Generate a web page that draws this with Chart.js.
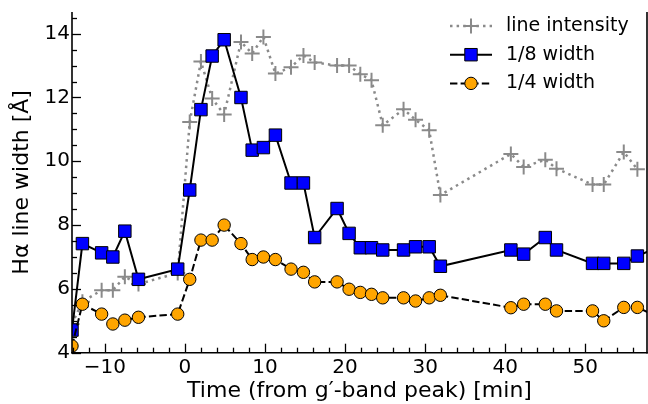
<!DOCTYPE html>
<html>
<head>
<meta charset="utf-8">
<script src="https://cdn.jsdelivr.net/npm/chart.js@4/dist/chart.umd.min.js"></script>
<style>
  html, body { margin: 0; padding: 0; background: #fff; }
  #wrap { width: 648px; height: 404px; }
</style>
</head>
<body>
<div id="wrap"><canvas id="c" width="648" height="404"></canvas></div>
<script>
// Observation times relative to the g'-band peak [min]
const times = [-14.1, -12.8, -10.4, -9.0, -7.5, -5.8, -0.9, 0.6, 2.0, 3.4, 4.9, 7.0, 8.4, 9.8, 11.3,
               13.25, 14.8, 16.2, 19.0, 20.5, 21.9, 23.3, 24.7, 27.3, 28.8, 30.5, 31.9, 40.7, 42.3,
               45.0, 46.4, 50.9, 52.3, 54.8, 56.5, 59.5];

// Scaled H-alpha line intensity (plotted on the same axis)
const lineIntensity = [4.9, 5.6, 5.96, 5.96, 6.38, 6.15, 6.5, 11.23, 13.13, 11.97, 11.47, 13.74, 13.38,
                       13.9, 12.75, 12.95, 13.32, 13.1, 13.0, 13.0, 12.73, 12.54, 11.13, 11.63, 11.3,
                       10.97, 8.94, 10.23, 9.82, 10.05, 9.77, 9.27, 9.27, 10.29, 9.75, null];

// Line width at 1/8 of the maximum [Å]
const width18 = [4.71, 7.42, 7.13, 7.0, 7.81, 6.3, 6.62, 9.1, 11.62, 13.3, 13.81, 12.0, 10.35, 10.43,
                 10.82, 9.32, 9.32, 7.61, 8.52, 7.74, 7.29, 7.29, 7.22, 7.22, 7.32, 7.32, 6.71, 7.22,
                 7.09, 7.61, 7.22, 6.8, 6.8, 6.8, 7.03, 7.35];

// Line width at 1/4 of the maximum [Å]
const width14 = [4.21, 5.52, 5.21, 4.9, 5.02, 5.11, 5.21, 6.3, 7.53, 7.53, 8.0, 7.42, 6.92, 7.0, 6.92,
                 6.62, 6.52, 6.22, 6.22, 5.99, 5.89, 5.83, 5.72, 5.72, 5.62, 5.72, 5.8, 5.41, 5.52,
                 5.52, 5.31, 5.31, 5.0, 5.42, 5.42, 5.07];

// Major tick values
const xTicks = [-10, 0, 10, 20, 30, 40, 50];
const yTicks = [4, 6, 8, 10, 12, 14];

const FONT = "'DejaVu Sans', 'Liberation Sans', sans-serif";
const GRAY = '#8a8a8a';
Chart.defaults.font.family = FONT;
Chart.defaults.color = '#000';

const pts = arr => times.map((t, i) => ({ x: t, y: arr[i] }));

// Inward ticks (major + minor) and the left/bottom/right spines
const frame = {
  id: 'frame',
  afterDatasetsDraw(chart) {
    const { ctx, chartArea: a, scales: { x, y } } = chart;
    ctx.save();
    ctx.strokeStyle = '#000';
    ctx.lineCap = 'butt';
    const seg = (x0, y0, x1, y1, w) => {
      ctx.lineWidth = w;
      ctx.beginPath(); ctx.moveTo(x0, y0); ctx.lineTo(x1, y1); ctx.stroke();
    };
    for (let v = Math.ceil(x.min / 2) * 2; v <= x.max; v += 2) {
      const px = Math.round(x.getPixelForValue(v)) + 0.5;
      const major = xTicks.includes(v);
      seg(px, a.bottom, px, a.bottom - (major ? 9 : 5), 1.3);
    }
    for (let v = Math.ceil(y.min * 2) / 2; v <= y.max; v += 0.5) {
      const py = Math.round(y.getPixelForValue(v)) + 0.5;
      const major = yTicks.includes(v);
      seg(a.left, py, a.left + (major ? 9 : 5), py, 1.3);
    }
    seg(a.left, a.top, a.left, a.bottom + 0.8, 1.6);
    seg(a.left - 0.8, a.bottom, a.right + 0.8, a.bottom, 1.6);
    seg(a.right, a.top, a.right, a.bottom + 0.8, 1.6);
    ctx.restore();
  }
};

// Legend with line + marker handles, upper right, no frame
const legendBox = {
  id: 'legendBox',
  afterDraw(chart) {
    const { ctx, chartArea: a } = chart;
    const x0 = a.right - 197, x1 = a.right - 155, xm = (x0 + x1) / 2, xt = a.right - 141;
    ctx.save();
    chart.data.datasets.forEach((ds, i) => {
      const yy = 26 + i * 28.7;
      ctx.strokeStyle = ds.borderColor;
      ctx.lineWidth = ds.borderWidth;
      ctx.setLineDash(ds.borderDash || []);
      ctx.beginPath(); ctx.moveTo(x0, yy); ctx.lineTo(x1, yy); ctx.stroke();
      ctx.setLineDash([]);
      const r = ds.pointRadius;
      ctx.lineWidth = ds.pointBorderWidth;
      ctx.strokeStyle = ds.pointBorderColor;
      ctx.fillStyle = ds.pointBackgroundColor;
      ctx.beginPath();
      if (ds.pointStyle === 'cross') {
        ctx.moveTo(xm - r, yy); ctx.lineTo(xm + r, yy);
        ctx.moveTo(xm, yy - r); ctx.lineTo(xm, yy + r);
        ctx.stroke();
      } else if (ds.pointStyle === 'rect') {
        const s = Math.SQRT1_2 * r;
        ctx.rect(xm - s, yy - s, 2 * s, 2 * s);
        ctx.fill(); ctx.stroke();
      } else {
        ctx.arc(xm, yy, r, 0, Math.PI * 2);
        ctx.fill(); ctx.stroke();
      }
      ctx.fillStyle = '#000';
      ctx.font = '19px ' + FONT;
      ctx.textAlign = 'left';
      ctx.textBaseline = 'middle';
      ctx.fillText(ds.label, xt, yy);
    });
    ctx.restore();
  }
};

new Chart(document.getElementById('c'), {
  type: 'line',
  data: {
    datasets: [
      {
        label: 'line intensity', data: pts(lineIntensity),
        borderColor: GRAY, borderWidth: 2.5, borderDash: [2.5, 4.1],
        pointStyle: 'cross', pointRadius: 7.5, pointBorderWidth: 2,
        pointBorderColor: GRAY, pointBackgroundColor: GRAY,
        tension: 0, order: 3, clip: 0
      },
      {
        label: '1/8 width', data: pts(width18),
        borderColor: '#000', borderWidth: 2,
        pointStyle: 'rect', pointRadius: 8.8, pointBorderWidth: 1,
        pointBorderColor: '#000', pointBackgroundColor: '#0000ff',
        tension: 0, order: 2, clip: 0
      },
      {
        label: '1/4 width', data: pts(width14),
        borderColor: '#000', borderWidth: 2, borderDash: [7.4, 3.2],
        pointStyle: 'circle', pointRadius: 6.2, pointBorderWidth: 1,
        pointBorderColor: '#000', pointBackgroundColor: '#ffa500',
        tension: 0, order: 1, clip: 0
      }
    ]
  },
  options: {
    responsive: false,
    animation: false,
    events: [],
    devicePixelRatio: 1,
    layout: { autoPadding: false, padding: { left: 0, right: 1, top: 12, bottom: 0 } },
    plugins: { legend: { display: false }, tooltip: { enabled: false } },
    scales: {
      x: {
        type: 'linear', min: -14.1, max: 57.7,
        grid: { display: false, drawTicks: false },
        border: { display: false },
        afterBuildTicks: s => { s.ticks = xTicks.map(v => ({ value: v })); },
        afterFit: s => { s.height = 51.3; s.paddingLeft = 0; s.paddingRight = 0; },
        ticks: {
          autoSkip: false, maxRotation: 0, padding: 3,
          font: { size: 20 }, color: '#000',
          callback: v => (v < 0 ? '\u2212' + Math.abs(v) : String(v))
        },
        title: {
          display: true, text: 'Time (from g\u2032-band peak) [min]',
          font: { size: 22 }, color: '#000', padding: { top: 0, bottom: 0 }
        }
      },
      y: {
        type: 'linear', min: 4, max: 14.68,
        grid: { display: false, drawTicks: false },
        border: { display: false },
        afterBuildTicks: s => { s.ticks = yTicks.map(v => ({ value: v })); },
        afterFit: s => { s.width = 72; s.paddingTop = 0; s.paddingBottom = 0; },
        ticks: {
          autoSkip: false, padding: 2,
          font: { size: 20 }, color: '#000'
        },
        title: {
          display: true, text: 'H\u03b1 line width [\u00c5]',
          font: { size: 22 }, color: '#000', padding: { top: 9, bottom: 0 }
        }
      }
    }
  },
  plugins: [frame, legendBox]
});
</script>
</body>
</html>
